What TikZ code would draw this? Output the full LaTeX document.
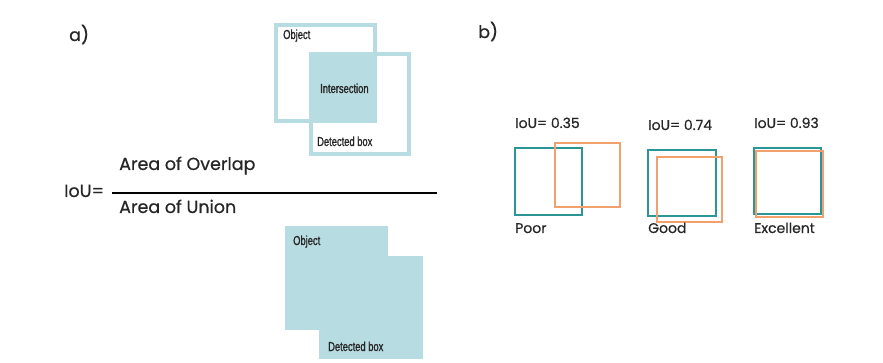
\documentclass[tikz,border=0pt]{standalone}
\usepackage{fontspec}
\setmainfont{Poppins}[FakeBold=0.6]
\newfontfamily\condfont[FakeStretch=0.72,FakeBold=1.2]{Liberation Sans}
\usepackage{xcolor}
\usetikzlibrary{positioning}

\definecolor{boxblue}{HTML}{B7DCE1}
\definecolor{predteal}{HTML}{2B9598}
\definecolor{truthorange}{HTML}{F2A06E}

\tikzset{
    outline/.style={draw=boxblue, line width=4, inner sep=0},
    region/.style={fill=boxblue, inner sep=0},
    tag/.style={anchor=base west, inner sep=0, text=black!85, font=\condfont\fontsize{13}{13}\selectfont},
    formula/.style={anchor=base west, inner sep=0, text=black!85, font=\fontsize{17.5}{17.5}\selectfont},
    score/.style={anchor=base west, inner sep=0, text=black!85, font=\fontsize{14}{14}\selectfont},
    tealbox/.style={draw=predteal, line width=2, inner sep=0, minimum size=66},
    orangebox/.style={draw=truthorange, line width=2, inner sep=0, minimum size=66}
}

\begin{document}
\begin{tikzpicture}[x=1pt,y=-1pt]
    \useasboundingbox[fill=white] (0,0) rectangle (883,363);

    % part a)
    \node[formula] at (69,41) (parta) {a)};

    \node[region, minimum width=64, minimum height=67] at (343,87.5) (inter) {};
    \node[outline, minimum width=99, minimum height=96] at (325.5,73) (object) {};
    \node[outline, minimum width=98, minimum height=100] at (360,104) (detected) {};
    \node[tag] at (283,39) (objlabel) {Object};
    \node[tag] at (320,93) (interlabel) {Intersection};
    \node[tag] at (317,146) (detlabel) {Detected box};

    \node[formula] at (64,197) (iou) {IoU=};
    \node[formula] at (119,170) (overlap) {Area of Overlap};
    \node[formula] at (119,213) (union) {Area of Union};
    \coordinate (barleft) at (112,193);
    \coordinate (barright) at (437,193);
    \draw[line width=2] (barleft) -- (barright);

    \node[region, minimum width=103, minimum height=104] at (336.5,278) (uobject) {};
    \node[region, minimum width=104, minimum height=103] at (371,307.5) (udetected) {};
    \node[tag] at (293,245) (uobjlabel) {Object};
    \node[tag] at (328,351) (udetlabel) {Detected box};

    % part b)
    \node[formula] at (478,38) (partb) {b)};

    \node[score] at (515,128) (scorepoor) {IoU= 0.35};
    \node[tealbox, minimum width=67, minimum height=67] at (548.5,181.5) (poorpred) {};
    \node[orangebox, minimum width=65, minimum height=64] at (587.5,175) (poortruth) {};
    \node[score] at (515,233) (poor) {Poor};

    \node[score] at (648,130) (scoregood) {IoU= 0.74};
    \node[tealbox, minimum width=68, minimum height=66] at (682,183) (goodpred) {};
    \node[orangebox, minimum width=65, minimum height=65] at (689.5,189.5) (goodtruth) {};
    \node[score] at (648,233) (good) {Good};

    \node[score] at (754,128) (scoreexc) {IoU= 0.93};
    \node[tealbox, minimum width=67, minimum height=66] at (787.5,181) (excpred) {};
    \node[orangebox, minimum width=67, minimum height=66] at (789.5,184) (exctruth) {};
    \node[score] at (754,233) (excellent) {Excellent};
\end{tikzpicture}
\end{document}
